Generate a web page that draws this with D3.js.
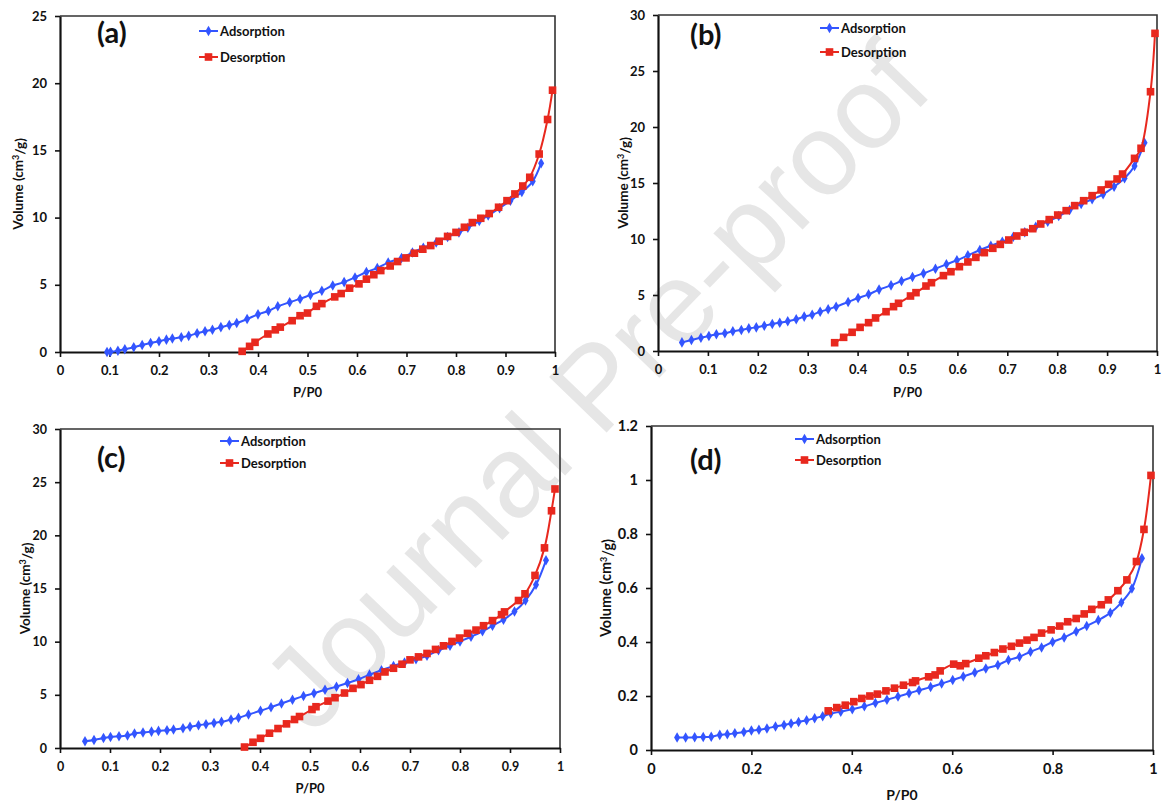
<!DOCTYPE html>
<html><head><meta charset="utf-8">
<script src="https://cdn.jsdelivr.net/npm/d3@7"></script>
<style>
html,body{margin:0;padding:0;background:#fff;}
svg{display:block;font-family:Lato,"Open Sans",sans-serif;}
</style></head>
<body>
<svg id="chart" width="1162" height="803"></svg>
<script>
// ---------- DATA ----------
// Panel (a)
const aAdsP = [0.095,0.102,0.117,0.131,0.149,0.166,0.183,0.2,0.215,0.227,0.245,0.26,0.277,0.293,0.308,0.325,0.342,0.357,0.378,0.4,0.421,0.44,0.464,0.485,0.506,0.529,0.551,0.574,0.596,0.619,0.641,0.663,0.69,0.712,0.734,0.76,0.783,0.806,0.824,0.847,0.865,0.888,0.91,0.933,0.955,0.972];
const aAdsV = [0,0.02,0.1,0.2,0.35,0.52,0.67,0.8,0.92,1.0,1.1,1.2,1.4,1.55,1.65,1.85,2.0,2.15,2.45,2.8,3.05,3.4,3.7,3.95,4.25,4.55,4.95,5.2,5.55,5.95,6.25,6.65,7.0,7.4,7.75,8.15,8.55,8.9,9.25,9.75,10.15,10.7,11.25,11.9,12.7,14.05];
const aDesP = [0.368,0.383,0.394,0.42,0.435,0.445,0.469,0.485,0.5,0.518,0.529,0.555,0.568,0.585,0.604,0.619,0.634,0.648,0.667,0.682,0.699,0.716,0.733,0.749,0.766,0.783,0.8,0.817,0.833,0.85,0.867,0.886,0.903,0.919,0.935,0.949,0.968,0.985,0.995];
const aDesV = [0.05,0.42,0.72,1.34,1.65,1.85,2.33,2.7,2.9,3.4,3.6,4.1,4.35,4.75,5.07,5.42,5.75,6.06,6.4,6.73,7.0,7.35,7.65,7.92,8.24,8.6,8.9,9.28,9.63,9.95,10.3,10.77,11.26,11.76,12.35,13.0,14.73,17.3,19.48];
// Panel (b)
const bAdsP = [0.048,0.067,0.086,0.102,0.117,0.134,0.15,0.167,0.182,0.197,0.213,0.229,0.244,0.26,0.277,0.293,0.309,0.325,0.341,0.357,0.381,0.401,0.422,0.443,0.467,0.488,0.51,0.532,0.556,0.578,0.599,0.621,0.645,0.667,0.69,0.712,0.735,0.757,0.781,0.803,0.825,0.848,0.87,0.892,0.914,0.935,0.955,0.975];
const bAdsV = [0.77,0.98,1.19,1.34,1.49,1.58,1.76,1.88,2.02,2.11,2.26,2.41,2.53,2.65,2.83,3.07,3.24,3.51,3.72,3.96,4.38,4.73,5.06,5.48,5.86,6.25,6.61,6.93,7.35,7.74,8.1,8.54,9.02,9.4,9.76,10.2,10.6,11.1,11.55,12.05,12.59,13.13,13.54,13.99,14.67,15.42,16.52,18.6];
const bDesP = [0.354,0.372,0.389,0.405,0.422,0.436,0.457,0.472,0.482,0.506,0.517,0.537,0.548,0.572,0.587,0.604,0.621,0.637,0.654,0.671,0.686,0.703,0.719,0.734,0.751,0.767,0.784,0.801,0.818,0.835,0.853,0.87,0.888,0.903,0.92,0.931,0.955,0.968,0.987,0.996];
const bDesV = [0.74,1.22,1.67,2.11,2.53,2.95,3.51,3.96,4.26,4.91,5.21,5.8,6.1,6.73,7.08,7.53,7.95,8.36,8.78,9.17,9.52,9.91,10.27,10.6,10.92,11.34,11.73,12.14,12.53,12.98,13.42,13.87,14.38,14.88,15.36,15.8,17.2,18.1,23.15,28.36];
// Panel (c)
const cAdsP = [0.05,0.068,0.087,0.101,0.118,0.135,0.149,0.166,0.183,0.197,0.214,0.227,0.246,0.26,0.277,0.292,0.308,0.323,0.342,0.357,0.377,0.401,0.422,0.443,0.465,0.487,0.508,0.53,0.553,0.575,0.597,0.619,0.643,0.667,0.689,0.712,0.734,0.757,0.78,0.8,0.822,0.845,0.865,0.887,0.909,0.931,0.952,0.972];
const cAdsV = [0.63,0.76,0.95,1.04,1.1,1.17,1.36,1.45,1.54,1.61,1.67,1.73,1.86,1.99,2.14,2.24,2.36,2.46,2.68,2.84,3.15,3.5,3.84,4.19,4.54,4.88,5.14,5.48,5.77,6.11,6.46,6.9,7.31,7.72,8.04,8.35,8.67,9.2,9.61,10.02,10.46,10.97,11.5,12.07,12.83,13.87,15.35,17.65];
const cDesP = [0.369,0.386,0.401,0.419,0.436,0.453,0.469,0.479,0.504,0.512,0.536,0.55,0.569,0.586,0.602,0.619,0.635,0.65,0.667,0.684,0.7,0.717,0.734,0.751,0.767,0.784,0.799,0.815,0.832,0.847,0.865,0.883,0.889,0.917,0.93,0.95,0.969,0.983,0.99];
const cDesV = [0.09,0.54,0.91,1.39,1.83,2.27,2.68,2.96,3.62,3.88,4.41,4.73,5.17,5.61,5.96,6.37,6.74,7.15,7.5,7.88,8.29,8.57,8.89,9.27,9.61,10.02,10.34,10.78,11.09,11.5,11.98,12.54,12.8,13.87,14.5,16.23,18.82,22.31,24.36];
// Panel (d)
const dAdsP = [0.052,0.069,0.087,0.104,0.12,0.137,0.152,0.167,0.185,0.2,0.215,0.231,0.248,0.265,0.279,0.294,0.31,0.326,0.342,0.358,0.378,0.401,0.425,0.447,0.47,0.492,0.514,0.534,0.557,0.579,0.601,0.622,0.645,0.667,0.691,0.712,0.734,0.756,0.778,0.8,0.823,0.847,0.868,0.891,0.915,0.937,0.958,0.978];
const dAdsV = [0.046,0.046,0.047,0.048,0.049,0.056,0.058,0.062,0.067,0.072,0.075,0.08,0.087,0.093,0.098,0.104,0.11,0.118,0.125,0.135,0.142,0.151,0.162,0.174,0.186,0.198,0.21,0.221,0.233,0.246,0.259,0.272,0.287,0.302,0.315,0.333,0.345,0.364,0.38,0.4,0.417,0.439,0.459,0.481,0.508,0.546,0.598,0.71];
const dDesP = [0.353,0.37,0.387,0.404,0.42,0.436,0.451,0.468,0.485,0.503,0.521,0.527,0.553,0.566,0.576,0.603,0.616,0.627,0.653,0.667,0.684,0.701,0.718,0.734,0.749,0.763,0.778,0.797,0.814,0.83,0.847,0.863,0.878,0.897,0.911,0.93,0.948,0.967,0.982,0.996];
const dDesV = [0.145,0.157,0.166,0.179,0.191,0.2,0.207,0.219,0.229,0.24,0.25,0.256,0.271,0.278,0.293,0.318,0.312,0.32,0.34,0.349,0.361,0.374,0.384,0.396,0.407,0.417,0.433,0.445,0.459,0.475,0.487,0.504,0.521,0.538,0.556,0.59,0.63,0.698,0.817,1.017];

const xTicksFine = [0,0.1,0.2,0.3,0.4,0.5,0.6,0.7,0.8,0.9,1];
const xTicksCoarse = [0,0.2,0.4,0.6,0.8,1];
const yTicks30 = [0,5,10,15,20,25,30];
const yTicks25 = [0,5,10,15,20,25];
const yTicksD = [0,0.2,0.4,0.6,0.8,1,1.2];
const panelLabels = ["(a)","(b)","(c)","(d)"];
const seriesNames = ["Adsorption","Desorption"];
const xTitle = "P/P0";
const watermark = "Journal Pre-proof";

// ---------- LAYOUT ----------
const BLUE = "#3355ff", RED = "#e8281e";
const panels = [
  {label:panelLabels[0], L:60, R:555, T:16, B:352, ymax:25, yt:yTicks25, xt:xTicksFine, fs:13, tfs:13,
   ads:[aAdsP,aAdsV], des:[aDesP,aDesV], lab:[97,33], leg:[199,31,57], ytx:18, xty:392},
  {label:panelLabels[1], L:658, R:1157, T:15, B:351, ymax:30, yt:yTicks30, xt:xTicksFine, fs:13, tfs:13,
   ads:[bAdsP,bAdsV], des:[bDesP,bDesV], lab:[690,35], leg:[820,28,52], ytx:623, xty:392},
  {label:panelLabels[2], L:60, R:560, T:429, B:748, ymax:30, yt:yTicks30, xt:xTicksFine, fs:12.5, tfs:13,
   ads:[cAdsP,cAdsV], des:[cDesP,cDesV], lab:[97,458], leg:[220,441,463], ytx:25, xty:788},
  {label:panelLabels[3], L:651, R:1153, T:426, B:750, ymax:1.2, yt:yTicksD, xt:xTicksCoarse, fs:14.5, tfs:14,
   ads:[dAdsP,dAdsV], des:[dDesP,dDesV], lab:[690,460], leg:[795,439,460], ytx:606, xty:795}
];

const svg = d3.select("#chart");

// watermark (beneath the plots)
svg.append("text")
  .attr("transform","translate(602,392) rotate(-46)")
  .attr("text-anchor","middle").attr("dy","0.27em")
  .style("font-family","'Liberation Sans',Arial,sans-serif")
  .style("font-size","116px").style("fill","#e6e6e6")
  .text(watermark);

const fmt = v => (v===0||v===1) ? String(v) : String(+v.toFixed(2));

panels.forEach(p => {
  const g = svg.append("g");
  const x = d3.scaleLinear().domain([0,1]).range([p.L,p.R]);
  const y = d3.scaleLinear().domain([0,p.ymax]).range([p.B,p.T]);

  // frame top/right
  g.append("path")
    .attr("d",`M${p.L},${p.T}H${p.R}V${p.B}`)
    .attr("fill","none").attr("stroke","#333").attr("stroke-width",1.6);

  const xa = g.append("g").attr("transform",`translate(0,${p.B})`)
    .call(d3.axisBottom(x).tickValues(p.xt).tickFormat(fmt).tickSize(5).tickSizeOuter(0).tickPadding(9));
  const ya = g.append("g").attr("transform",`translate(${p.L},0)`)
    .call(d3.axisLeft(y).tickValues(p.yt).tickFormat(fmt).tickSize(5).tickSizeOuter(0).tickPadding(8));
  [xa,ya].forEach(a=>{
    a.select(".domain").attr("stroke","#111").attr("stroke-width",2.2);
    a.selectAll(".tick line").attr("stroke","#111").attr("stroke-width",1.6);
    a.selectAll("text").style("font-family","Lato,sans-serif").style("font-size",p.fs+"px")
      .style("font-weight","bold").attr("fill","#111");
  });

  // axis titles
  g.append("text").attr("x",(p.L+p.R)/2).attr("y",p.xty).attr("dy","0.35em")
    .attr("text-anchor","middle").style("font-size",p.tfs+"px").style("font-weight","bold")
    .attr("fill","#111").text(xTitle);
  const yt = g.append("text").attr("transform",`translate(${p.ytx},${(p.T+p.B)/2}) rotate(-90)`)
    .attr("text-anchor","middle").attr("dy","0.35em")
    .style("font-size",(p.tfs+0.5)+"px").style("font-weight","bold").attr("fill","#111");
  yt.append("tspan").text("Volume (cm");
  yt.append("tspan").attr("dy","-0.4em").style("font-size","9px").text("3");
  yt.append("tspan").attr("dy","0.4em").text("/g)");

  // panel label
  g.append("text").attr("x",p.lab[0]).attr("y",p.lab[1]).attr("dy","0.36em")
    .style("font-size","29px").style("font-weight","bold").attr("fill","#111").text(p.label);

  const line = d3.line().x(d=>x(d[0])).y(d=>y(d[1])).curve(d3.curveCatmullRom.alpha(0.5));
  const ads = p.ads[0].map((v,i)=>[v,p.ads[1][i]]);
  const des = p.des[0].map((v,i)=>[v,p.des[1][i]]);

  const sq = d3.symbol().type(d3.symbolSquare).size(58);
  const di = d3.symbol().type(d3.symbolDiamond).size(32);

  g.append("path").datum(ads).attr("d",line).attr("fill","none").attr("stroke",BLUE).attr("stroke-width",2);
  g.append("g").selectAll("path").data(ads).join("path")
    .attr("transform",d=>`translate(${x(d[0])},${y(d[1])})`).attr("d",di).attr("fill",BLUE);
  g.append("path").datum(des).attr("d",line).attr("fill","none").attr("stroke",RED).attr("stroke-width",2);
  g.append("g").selectAll("path").data(des).join("path")
    .attr("transform",d=>`translate(${x(d[0])},${y(d[1])})`).attr("d",sq).attr("fill",RED);

  // legend
  const lx = p.leg[0];
  [[seriesNames[0],BLUE,di,p.leg[1]],[seriesNames[1],RED,sq,p.leg[2]]].forEach(([nm,col,sym,ly])=>{
    g.append("line").attr("x1",lx).attr("x2",lx+19).attr("y1",ly).attr("y2",ly)
      .attr("stroke",col).attr("stroke-width",2);
    g.append("path").attr("transform",`translate(${lx+9.5},${ly})`).attr("d",sym).attr("fill",col);
    g.append("text").attr("x",lx+21).attr("y",ly).attr("dy","0.35em")
      .style("font-size","13px").style("font-weight","bold").attr("fill","#111").text(nm);
  });
});
</script>
</body></html>
